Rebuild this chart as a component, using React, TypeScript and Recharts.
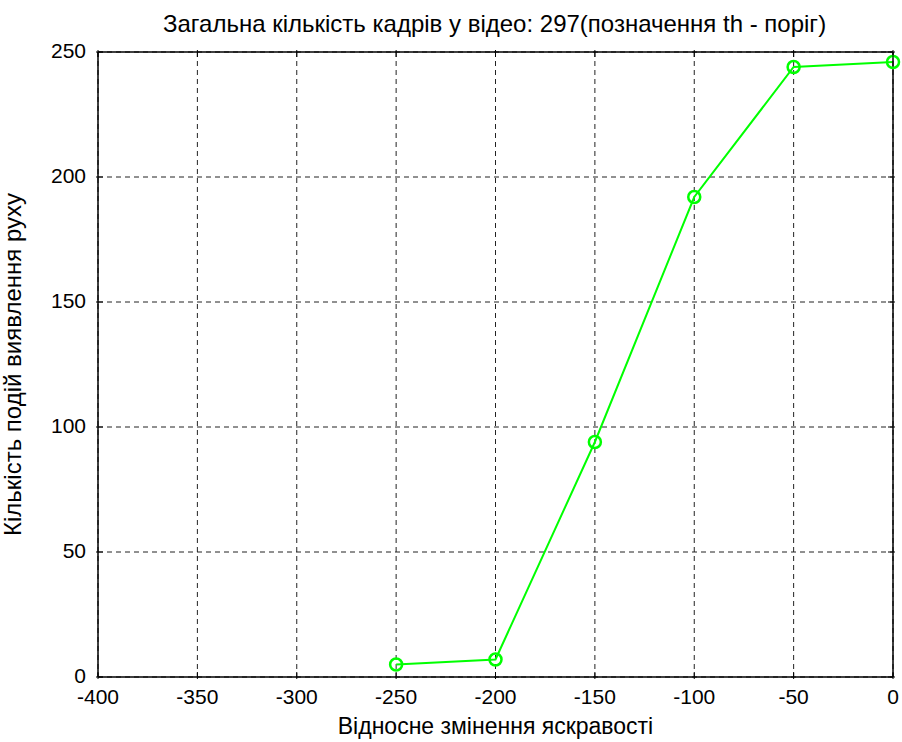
import React from 'react';
import {
  LineChart,
  Line,
  XAxis,
  YAxis,
  CartesianGrid,
  Label,
} from 'recharts';

const brightnessShift = [-250, -200, -150, -100, -50, 0];
const motionEvents = [5, 7, 94, 192, 244, 246];
const xTicks = [-400, -350, -300, -250, -200, -150, -100, -50, 0];
const yTicks = [0, 50, 100, 150, 200, 250];

const data = brightnessShift.map((x, i) => ({ x, y: motionEvents[i] }));

const FONT = '"Liberation Sans", Arial, sans-serif';

const BottomTick = (props: any) => {
  const { x, y, payload } = props;
  return (
    <g>
      <line x1={x} y1={y} x2={x} y2={y - 7} stroke="#000" strokeWidth={1} />
      <text x={x} y={y + 25} textAnchor="middle" fontSize={21} fontFamily={FONT} fill="#000">
        {payload.value}
      </text>
    </g>
  );
};

const LeftTick = (props: any) => {
  const { x, y, payload } = props;
  return (
    <g>
      <line x1={x} y1={y} x2={x + 7} y2={y} stroke="#000" strokeWidth={1} />
      <text x={x - 10} y={y + 6} textAnchor="end" fontSize={21} fontFamily={FONT} fill="#000">
        {payload.value}
      </text>
    </g>
  );
};

const TopTick = (props: any) => {
  const { x, y } = props;
  return <line x1={x} y1={y} x2={x} y2={y + 7} stroke="#000" strokeWidth={1} />;
};

const RightTick = (props: any) => {
  const { x, y } = props;
  return <line x1={x} y1={y} x2={x - 7} y2={y} stroke="#000" strokeWidth={1} />;
};

export default function App() {
  return (
    <div style={{ position: 'absolute', left: 0, top: 0, width: 902, height: 742, background: '#fff' }}>
      <div
        style={{
          position: 'absolute',
          left: 163,
          top: 10,
          width: 662,
          textAlign: 'center',
          fontFamily: FONT,
          fontSize: 24,
          whiteSpace: 'nowrap',
          color: '#000',
        }}
      >
        Загальна кількість кадрів у відео: 297(позначення th - поріг)
      </div>
      <LineChart width={902} height={742} data={data} margin={{ top: 51, right: 8, left: 0, bottom: 0 }}>
        <CartesianGrid xAxisId="bottom" yAxisId="left" stroke="#222" strokeDasharray="5 4" />
        <XAxis
          xAxisId="bottom"
          dataKey="x"
          type="number"
          domain={[-400, 0]}
          ticks={xTicks}
          height={65}
          tickSize={0}
          tick={<BottomTick />}
          axisLine={{ stroke: '#000', strokeWidth: 1.5 }}
          tickLine={false}
          interval={0}
        >
          <Label
            value="Відносне змінення яскравості"
            position="insideBottom"
            offset={8}
            style={{ fontFamily: FONT, fontSize: 23, fill: '#000' }}
          />
        </XAxis>
        <XAxis
          xAxisId="top"
          orientation="top"
          dataKey="x"
          type="number"
          domain={[-400, 0]}
          ticks={xTicks}
          height={1}
          tickSize={0}
          tick={<TopTick />}
          axisLine={{ stroke: '#000', strokeWidth: 1.5 }}
          tickLine={false}
          interval={0}
        />
        <YAxis
          yAxisId="left"
          type="number"
          domain={[0, 250]}
          ticks={yTicks}
          width={98}
          tickSize={0}
          tick={<LeftTick />}
          axisLine={{ stroke: '#000', strokeWidth: 1.5 }}
          tickLine={false}
          interval={0}
        >
          <Label
            value="Кількість подій виявлення руху"
            angle={-90}
            position="insideLeft"
            offset={12}
            style={{ fontFamily: FONT, fontSize: 24, fill: '#000', textAnchor: 'middle' }}
          />
        </YAxis>
        <YAxis
          yAxisId="right"
          orientation="right"
          type="number"
          domain={[0, 250]}
          ticks={yTicks}
          width={1}
          tickSize={0}
          tick={<RightTick />}
          axisLine={{ stroke: '#000', strokeWidth: 1.5 }}
          tickLine={false}
          interval={0}
        />
        <Line
          xAxisId="top"
          yAxisId="right"
          dataKey="y"
          stroke="none"
          dot={false}
          activeDot={false}
          isAnimationActive={false}
        />
        <Line
          xAxisId="bottom"
          yAxisId="left"
          dataKey="y"
          stroke="#00ff00"
          strokeWidth={2}
          dot={{ r: 6, stroke: '#00ff00', strokeWidth: 2.5, fill: 'none' }}
          isAnimationActive={false}
        />
      </LineChart>
    </div>
  );
}
